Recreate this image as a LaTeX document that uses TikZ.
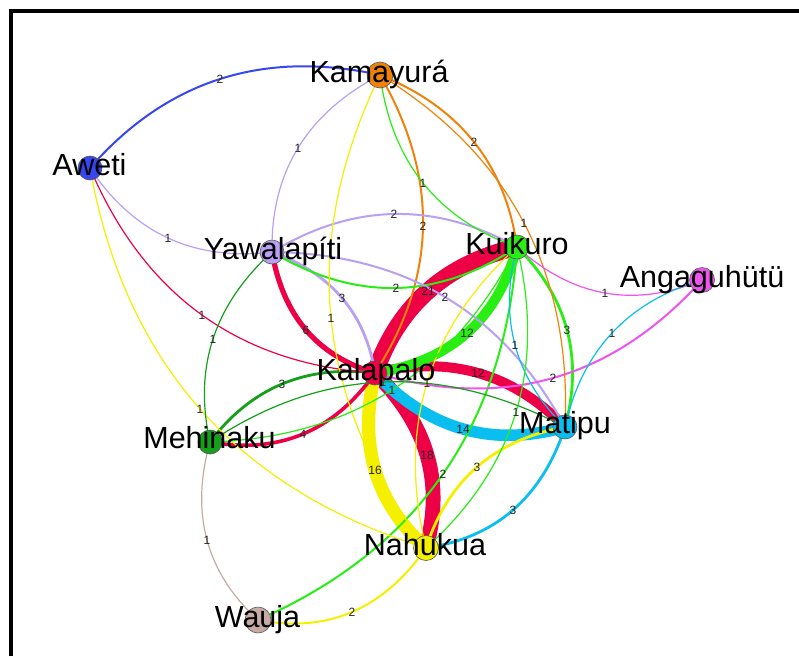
\documentclass[tikz,border=0pt]{standalone}
\usepackage{fontspec}
\setmainfont{Liberation Sans}
\usetikzlibrary{calc}
\pgfdeclarelayer{bg}
\pgfdeclarelayer{edges}
\pgfdeclarelayer{elabels}
\pgfsetlayers{bg,edges,elabels,main}
\definecolor{cKam}{RGB}{240,130,10}
\definecolor{cAwe}{RGB}{55,70,240}
\definecolor{cYaw}{RGB}{185,160,245}
\definecolor{cKui}{RGB}{40,238,20}
\definecolor{cAng}{RGB}{238,85,238}
\definecolor{cKal}{RGB}{238,0,70}
\definecolor{cMeh}{RGB}{20,160,25}
\definecolor{cMat}{RGB}{10,190,240}
\definecolor{cNah}{RGB}{245,240,0}
\definecolor{cWau}{RGB}{200,170,165}
\tikzset{
  vtx/.style={circle, draw=black!65, line width=0.6pt, inner sep=0pt, minimum size=24pt},
  vlab/.style={anchor=base, inner sep=0pt, font=\fontsize{30.5}{31}\selectfont},
  elab/.style={inner sep=0pt, font=\fontsize{12}{12}\selectfont, text=black!85},
  frame/.style={line width=4pt, line join=miter},
}
\newcommand\edg[6]{%
  \pgfmathsetmacro\ew{0.4+0.8*#4}%
  \begin{pgfonlayer}{edges}
    \coordinate (Cc) at ($2*(#5,#6)-0.5*(#1.center)-0.5*(#2.center)$);
    \draw[draw=#3, line width=\ew pt] (#1.center) .. controls ($(#1.center)!0.6667!(Cc)$) and ($(#2.center)!0.6667!(Cc)$) .. (#2.center);
  \end{pgfonlayer}
  \begin{pgfonlayer}{elabels}
    \node[elab] (L#1#2) at (#5,#6) {#4};
  \end{pgfonlayer}
}
\begin{document}
\begin{tikzpicture}[x=1pt,y=-1pt]
\useasboundingbox (0,0) rectangle (799,656);
\begin{pgfonlayer}{bg}
\fill[white] (0,0) rectangle (799,656);
\end{pgfonlayer}
\draw[frame] (10.5,656) -- (10.5,11.3) -- (799,11.3);
% vertices
\node[vtx, fill=cKam, minimum size=26pt] (Kam) at (380,75) {};
\node[vtx, fill=cAwe] (Awe) at (90,168) {};
\node[vtx, fill=cYaw] (Yaw) at (272,252) {};
\node[vtx, fill=cKui] (Kui) at (517,247) {};
\node[vtx, fill=cAng, minimum size=25pt] (Ang) at (702,280) {};
\node[vtx, fill=cKal] (Kal) at (375,373) {};
\node[vtx, fill=cMeh] (Meh) at (210,442) {};
\node[vtx, fill=cMat] (Mat) at (565,427) {};
\node[vtx, fill=cNah, minimum size=25pt] (Nah) at (426,548) {};
\node[vtx, fill=cWau, minimum size=26pt] (Wau) at (258,620) {};
% edges, heaviest first
\edg{Kal}{Kui}{cKal}{21}{428}{291}
\edg{Kal}{Nah}{cKal}{18}{427}{455}
\edg{Nah}{Kal}{cNah}{16}{375}{470}
\edg{Mat}{Kal}{cMat}{14}{463}{429}
\edg{Kal}{Mat}{cKal}{12}{478}{373}
\edg{Kui}{Kal}{cKui}{12}{467}{333}
\edg{Kal}{Yaw}{cKal}{6}{306}{330}
\edg{Kal}{Meh}{cKal}{4}{303}{434}
\edg{Meh}{Kal}{cMeh}{3}{282}{384}
\edg{Yaw}{Kal}{cYaw}{3}{342}{298}
\edg{Kui}{Mat}{cKui}{3}{567}{330}
\edg{Mat}{Nah}{cMat}{3}{513}{510}
\edg{Nah}{Mat}{cNah}{3}{477}{467}
\edg{Awe}{Kam}{cAwe}{2}{220}{79}
\edg{Kam}{Kal}{cKam}{2}{423}{226}
\edg{Kam}{Kui}{cKam}{2}{474}{142}
\edg{Yaw}{Kui}{cYaw}{2}{394}{214}
\edg{Kui}{Yaw}{cKui}{2}{396}{288}
\edg{Yaw}{Mat}{cYaw}{2}{445}{297}
\edg{Kui}{Wau}{cKui}{2}{443}{474}
\edg{Ang}{Kal}{cAng}{2}{553}{378}
\edg{Nah}{Wau}{cNah}{2}{352}{612}
\edg{Yaw}{Awe}{cYaw}{1}{168}{238}
\edg{Kal}{Awe}{cKal}{1}{202}{315}
\edg{Nah}{Awe}{cNah}{1}{200}{409}
\edg{Yaw}{Kam}{cYaw}{1}{298}{148}
\edg{Nah}{Kam}{cNah}{1}{331}{318}
\edg{Kui}{Kam}{cKui}{1}{423}{183}
\edg{Kam}{Mat}{cKam}{1}{524}{223}
\edg{Meh}{Yaw}{cMeh}{1}{213}{339}
\edg{Ang}{Kui}{cAng}{1}{605}{293}
\edg{Mat}{Kui}{cMat}{1}{515}{345}
\edg{Kui}{Nah}{cKui}{1}{516}{412}
\edg{Nah}{Kui}{cNah}{1}{427}{383}
\edg{Kui}{Meh}{cKui}{1}{392}{390}
\edg{Meh}{Mat}{cMeh}{1}{383}{382}
\edg{Mat}{Ang}{cMat}{1}{612}{333}
\edg{Wau}{Meh}{cWau}{1}{207}{540}
% vertex labels
\node[vlab] (KamT) at (379,82) {Kamayurá};
\node[vlab] (AweT) at (89.5,175) {Aweti};
\node[vlab] (YawT) at (273,259) {Yawalapíti};
\node[vlab] (KuiT) at (517,254) {Kuikuro};
\node[vlab] (AngT) at (702,287) {Angaguhütü};
\node[vlab] (KalT) at (376,380) {Kalapalo};
\node[vlab] (MehT) at (209.5,448) {Mehinaku};
\node[vlab] (MatT) at (565,433) {Matipu};
\node[vlab] (NahT) at (425,555) {Nahukua};
\node[vlab] (WauT) at (257.5,627) {Wauja};
\end{tikzpicture}
\end{document}
